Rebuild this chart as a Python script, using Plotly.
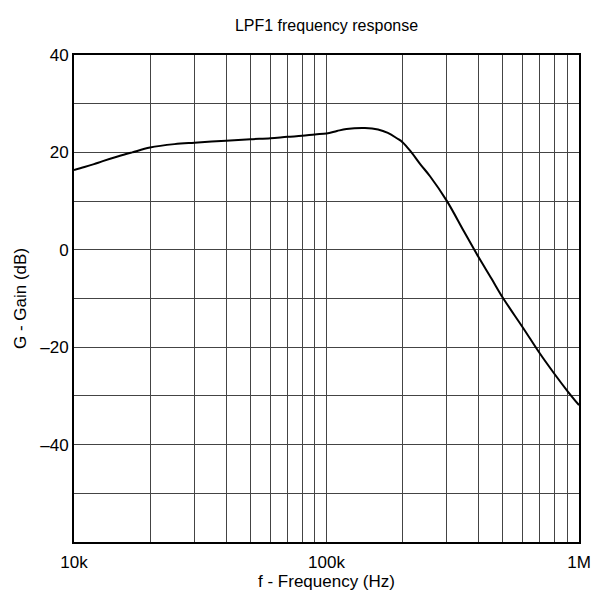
import plotly.graph_objects as go

# Frequency (Hz) and gain (dB)
freq = [10e3, 11e3, 12e3, 13e3, 15e3, 17e3, 20e3, 25e3, 30e3, 40e3, 50e3, 60e3,
        70e3, 80e3, 90e3, 100e3, 110e3, 120e3, 142e3, 160e3, 175e3, 190e3,
        200e3, 217e3, 235e3, 257e3, 300e3, 350e3, 400e3, 450e3, 500e3, 600e3,
        700e3, 800e3, 900e3, 1e6]
gain = [16.4, 17.0, 17.6, 18.2, 19.2, 20.0, 21.0, 21.7, 22.0, 22.4, 22.7, 22.9,
        23.2, 23.4, 23.7, 23.9, 24.4, 24.8, 25.0, 24.7, 24.0, 22.9,
        22.1, 20.0, 17.6, 15.1, 10.0, 3.8, -1.5, -5.9, -9.9, -16.0,
        -21.3, -25.5, -29.0, -31.9]

x_tickvals = [m * 10 ** e for e in (4, 5) for m in range(1, 10)] + [1e6]
x_ticktext = ["10k"] + [""] * 8 + ["100k"] + [""] * 8 + ["1M"]
y_tickvals = [40, 30, 20, 10, 0, -10, -20, -30, -40, -50, -60]
y_ticktext = ["40", "", "20", "", "0", "", "\u201320", "", "\u201340", "", ""]

fig = go.Figure()
fig.add_trace(go.Scatter(x=freq, y=gain, mode="lines",
                         line=dict(color="black", width=2, shape="spline", smoothing=1.0),
                         showlegend=False, hoverinfo="skip"))

font = dict(family="Liberation Sans, Arial, sans-serif", color="black")
W, H = 594, 601
L, R, T, B = 74, 15, 55, 59
fig.update_layout(
    width=W, height=H,
    margin=dict(l=L, r=R, t=T, b=B, autoexpand=False),
    paper_bgcolor="white", plot_bgcolor="white",
    font=dict(**font, size=16),
    title=dict(text="LPF1 frequency response", x=(L + (W - R)) / 2 / W, xanchor="center",
               y=1 - 25 / H, yanchor="middle", font=dict(**font, size=16)),
    xaxis=dict(type="log", range=[4, 6], tickvals=x_tickvals, ticktext=x_ticktext,
               automargin=False,
               showgrid=True, gridcolor="#444444", gridwidth=1,
               showline=True, linecolor="black", linewidth=2, mirror=True,
               ticks="", ticklabelstandoff=4, tickfont=dict(**font, size=17),
               title=dict(text="f - Frequency (Hz)", font=dict(**font, size=17), standoff=4),
               zeroline=False),
    yaxis=dict(range=[-60, 40], tickvals=y_tickvals, ticktext=y_ticktext,
               automargin=False,
               showgrid=True, gridcolor="#444444", gridwidth=1,
               showline=True, linecolor="black", linewidth=2, mirror=True,
               ticks="", tickfont=dict(**font, size=17),
               title=dict(text="G - Gain (dB)", font=dict(**font, size=17), standoff=9),
               zeroline=False),
)
fig.write_html("out.html", config={"displayModeBar": False},
               post_script="document.body.style.margin='0';document.body.style.overflow='hidden';")
